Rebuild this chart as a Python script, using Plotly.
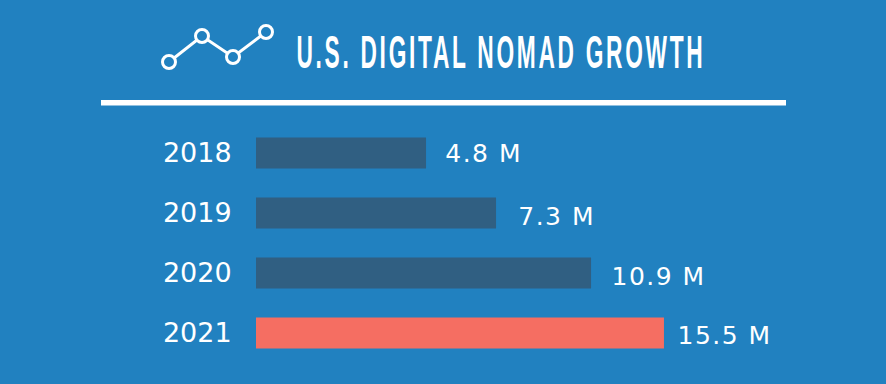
import plotly.graph_objects as go

W, H = 886, 384
years = ["2018", "2019", "2020", "2021"]
value_labels = ["4.8 M", "7.3 M", "10.9 M", "15.5 M"]
# Bar lengths as drawn in the picture (the graphic is not to scale with its labels),
# expressed on the scale where the last bar equals 15.5.
drawn_lengths = [6.46, 9.12, 12.73, 15.5]
bar_colors = ["#305F82", "#305F82", "#305F82", "#F56E62"]
title_text = "<b>U.S. DIGITAL NOMAD GROWTH</b>"
icon_x = [169, 202, 233, 266]
icon_y = [62, 36, 57, 32]

label_dx = [21, 24, 23, 16]
label_dy = [0, 3, 3, 2]

BG = "#2181C0"
FONT = "DejaVu Sans"
rows = list(range(len(years)))

fig = go.Figure()
fig.add_trace(go.Bar(
    y=rows, x=drawn_lengths, orientation="h",
    marker=dict(color=bar_colors, line_width=0),
    hoverinfo="skip", showlegend=False,
))
fig.add_trace(go.Scatter(
    x=icon_x, y=icon_y, xaxis="x2", yaxis="y2", mode="lines+markers",
    line=dict(color="white", width=3),
    marker=dict(size=13, color=BG, line=dict(color="white", width=3)),
    hoverinfo="skip", showlegend=False,
))

annotations = [
    dict(x=v, y=r, xref="x", yref="y", text=t, showarrow=False, xanchor="left",
         xshift=dx, yshift=-dy, font=dict(family=FONT, size=25, color="white"))
    for v, r, t, dx, dy in zip(drawn_lengths, rows, value_labels, label_dx, label_dy)
]
annotations.append(dict(
    x=501.5 / W, y=1 - 51 / H, xref="paper", yref="paper", text=title_text,
    showarrow=False, xanchor="center", yanchor="middle",
    font=dict(family="Liberation Sans", size=47, color="white"),
))

fig.update_layout(
    width=W, height=H, autosize=False,
    margin=dict(l=0, r=0, t=0, b=0, pad=0, autoexpand=False),
    paper_bgcolor=BG, plot_bgcolor="rgba(0,0,0,0)",
    bargap=0.483,
    xaxis=dict(domain=[256 / W, 1], range=[0, 630 / 26.32], visible=False, fixedrange=True),
    yaxis=dict(domain=[1 - 363 / H, 1 - 123 / H], range=[3.5, -0.5],
               tickmode="array", tickvals=rows, ticktext=years,
               showgrid=False, zeroline=False, showline=False,
               ticks="outside", ticklen=18, tickcolor="rgba(0,0,0,0)", anchor="x",
               tickfont=dict(family=FONT, size=27, color="white"), fixedrange=True),
    xaxis2=dict(domain=[0, 1], range=[0, W], visible=False, anchor="y2", fixedrange=True),
    yaxis2=dict(domain=[0, 1], range=[H, 0], visible=False, anchor="x2", fixedrange=True),
    annotations=annotations,
    shapes=[dict(type="rect", xref="paper", yref="paper", x0=101 / W, x1=786 / W,
                 y0=1 - 105.5 / H, y1=1 - 100 / H, fillcolor="white", line_width=0)],
)

post = """
document.documentElement.style.margin = '0';
document.body.style.margin = '0';
document.body.style.background = '%s';
document.querySelectorAll('.annotation-text').forEach(function (t) {
  if (t.textContent.indexOf('NOMAD') >= 0) {
    t.style.letterSpacing = '0.12em';
    t.setAttribute('textLength', '409');
    t.setAttribute('lengthAdjust', 'spacingAndGlyphs');
  } else {
    t.style.letterSpacing = '1.5px';
  }
});
""" % BG

fig.write_html("out.html", config={"displayModeBar": False}, post_script=post)
